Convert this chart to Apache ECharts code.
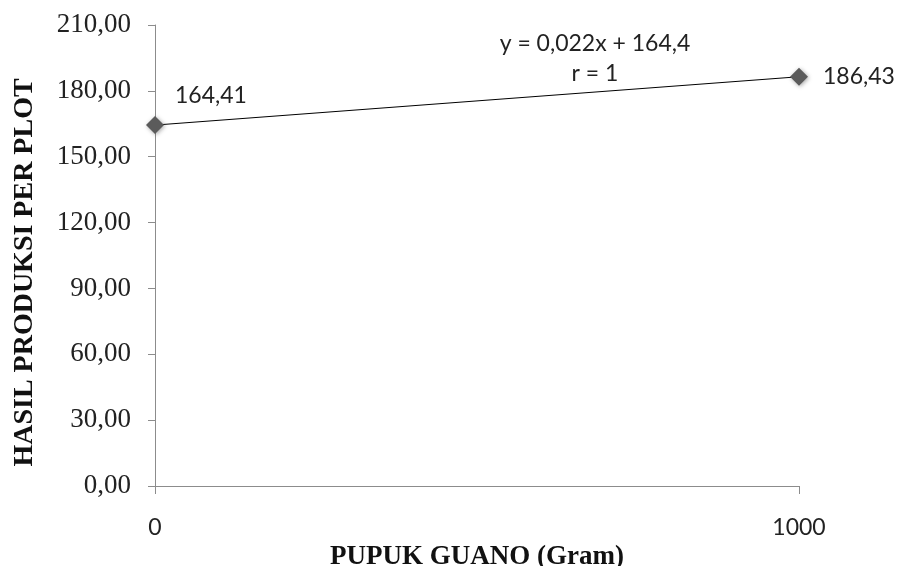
<!DOCTYPE html>
<html>
<head>
<meta charset="utf-8">
<script src="https://cdn.jsdelivr.net/npm/echarts@6/dist/echarts.min.js"></script>
<style>
  html, body { margin: 0; padding: 0; background: #fff; }
  #chart { width: 900px; height: 566px; }
</style>
</head>
<body>
<div id="chart"></div>
<script>
// Guano fertiliser dose (gram) vs yield per plot
const doses = [0, 1000];
const yields = [164.41, 186.43];
const yTicks = { min: 0, max: 210, step: 30 };
const equationText = 'y = 0,022x + 164,4';
const rText = 'r = 1';
const xTitle = 'PUPUK GUANO (Gram)';
const yTitle = 'HASIL PRODUKSI PER PLOT';

const fmt = v => v.toFixed(2).replace('.', ',');
const sans = 'Lato';
const serif = 'Liberation Serif';

// label placement for each point: first sits above-right, second to the right
const labelOffsets = [[6, -30], [10, 0]];

const points = doses.map((d, i) => ({
  value: [d, yields[i]],
  label: { offset: labelOffsets[i] }
}));

const chart = echarts.init(document.getElementById('chart'));
chart.setOption({
  animation: false,
  grid: { left: 155, right: 101, top: 25, bottom: 80, containLabel: false, outerBoundsMode: 'none' },
  xAxis: {
    type: 'value',
    min: 0, max: 1000, interval: 1000,
    name: xTitle, nameLocation: 'middle', nameGap: 54,
    nameTextStyle: { fontFamily: serif, fontWeight: 'bold', fontSize: 27, color: '#111' },
    axisLine: { show: true, lineStyle: { color: '#8c8c8c', width: 1 } },
    axisTick: { show: true, length: 8, inside: false, lineStyle: { color: '#8c8c8c' } },
    axisLabel: { fontFamily: sans, fontSize: 23, color: '#222', margin: 30, formatter: v => String(v) },
    splitLine: { show: false }
  },
  yAxis: {
    type: 'value',
    min: yTicks.min, max: yTicks.max, interval: yTicks.step,
    name: yTitle, nameLocation: 'middle', nameGap: 116, nameRotate: 90,
    nameTextStyle: { fontFamily: serif, fontWeight: 'bold', fontSize: 28, color: '#111', padding: [0, 34, 0, 0] },
    axisLine: { show: true, lineStyle: { color: '#8c8c8c', width: 1 } },
    axisTick: { show: true, length: 7, lineStyle: { color: '#8c8c8c' } },
    axisLabel: { fontFamily: serif, fontSize: 27, color: '#222', margin: 24, formatter: fmt },
    splitLine: { show: false }
  },
  series: [{
    type: 'line',
    data: points,
    symbol: 'diamond',
    symbolSize: 18,
    lineStyle: { color: '#000', width: 1 },
    itemStyle: {
      color: '#5b5b5b',
      shadowColor: 'rgba(0,0,0,0.35)', shadowBlur: 4, shadowOffsetX: 1, shadowOffsetY: 1
    },
    label: {
      show: true, position: 'right', distance: 5,
      fontFamily: sans, fontSize: 23, color: '#222',
      formatter: p => fmt(p.value[1])
    }
  }],
  graphic: [
    { type: 'text', x: 595, y: 44, style: { text: equationText, align: 'center', verticalAlign: 'middle', font: '23px Lato', fill: '#222' } },
    { type: 'text', x: 595, y: 74, style: { text: rText, align: 'center', verticalAlign: 'middle', font: '23px Lato', fill: '#222' } }
  ]
});
</script>
</body>
</html>
